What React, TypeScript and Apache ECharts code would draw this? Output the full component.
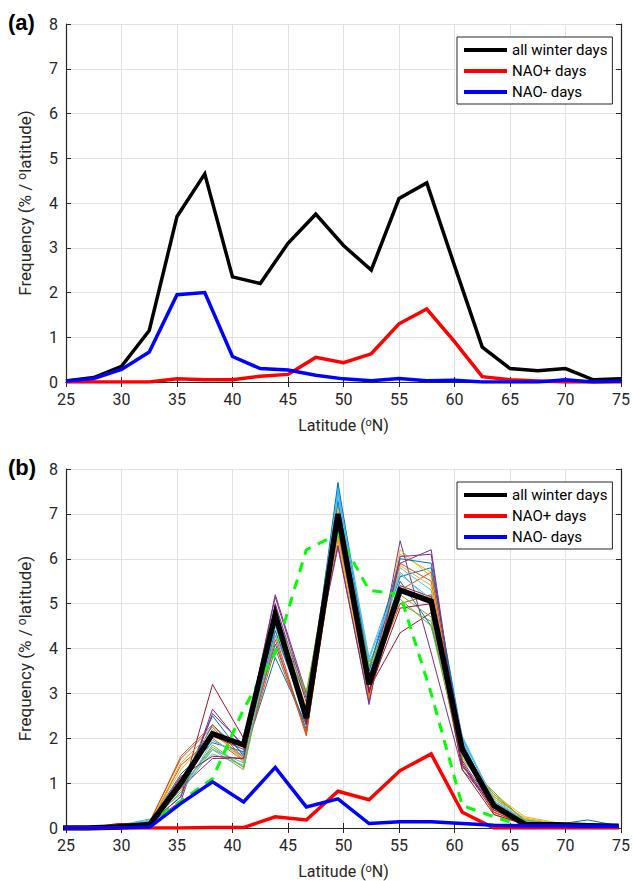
import React, { useEffect, useRef } from "react";
import * as echarts from "echarts";

// ---------- Panel (a) ----------
const latA = [25, 27.5, 30, 32.5, 35, 37.5, 40, 42.5, 45, 47.5, 50, 52.5, 55, 57.5, 60, 62.5, 65, 67.5, 70, 72.5, 75];
const allA = [0.02, 0.1, 0.35, 1.15, 3.7, 4.65, 2.35, 2.2, 3.1, 3.75, 3.05, 2.5, 4.1, 4.45, 2.6, 0.78, 0.3, 0.25, 0.3, 0.05, 0.07];
const posA = [0, 0, 0, 0, 0.07, 0.05, 0.05, 0.13, 0.17, 0.55, 0.43, 0.63, 1.3, 1.63, 0.9, 0.12, 0.05, 0.02, 0, 0, 0];
const negA = [0.02, 0.08, 0.28, 0.67, 1.95, 2.0, 0.57, 0.3, 0.27, 0.15, 0.07, 0.03, 0.08, 0.03, 0.04, 0, 0, 0, 0.05, 0, 0.02];

// ---------- Panel (b) ----------
const latB = [24.1, 26.9, 29.7, 32.55, 35.35, 38.2, 41.0, 43.85, 46.65, 49.5, 52.3, 55.1, 57.9, 60.7, 63.55, 66.35, 69.2, 72.0, 74.8];
const allB = [0, 0, 0.02, 0.08, 1.0, 2.1, 1.85, 4.75, 2.45, 7.0, 3.2, 5.3, 5.05, 1.75, 0.5, 0.08, 0.07, 0.05, 0.04];
const posB = [0, 0, 0, 0, 0, 0.01, 0.01, 0.25, 0.18, 0.82, 0.63, 1.28, 1.65, 0.35, 0, 0, 0, 0, 0];
const negB = [0, 0, 0, 0.02, 0.55, 1.03, 0.58, 1.35, 0.47, 0.65, 0.1, 0.14, 0.14, 0.1, 0.06, 0.05, 0.05, 0.04, 0.04];
const refB = [0, 0, 0.01, 0.12, 0.6, 1.1, 2.65, 3.9, 6.2, 6.55, 5.3, 5.2, 3.0, 0.5, 0.25, 0.03, 0.03, 0.02, 0.02];

const m1 = [0, 0, 0.02, 0.1, 0.9, 2.5, 1.6, 3.8, 2.3, 7.5, 3.6, 5.6, 5.8, 2.0, 0.6, 0.15, 0.1, 0.08, 0.05];
const m2 = [0, 0, 0.03, 0.15, 1.55, 2.25, 1.5, 4.3, 2.1, 6.7, 3.0, 5.9, 5.5, 1.7, 0.4, 0.1, 0.1, 0.08, 0.05];
const m3 = [0, 0, 0.02, 0.12, 1.3, 2.1, 1.6, 4.4, 2.6, 6.4, 2.95, 6.1, 5.7, 1.6, 0.7, 0.2, 0.1, 0.07, 0.05];
const m4 = [0, 0, 0.05, 0.1, 0.6, 2.65, 1.8, 5.2, 3.0, 6.3, 2.75, 6.4, 3.9, 1.3, 0.5, 0.12, 0.08, 0.07, 0.05];
const m5 = [0, 0, 0.03, 0.1, 0.8, 1.75, 1.3, 4.5, 2.9, 7.2, 3.7, 5.0, 4.6, 1.5, 0.8, 0.15, 0.1, 0.06, 0.05];
const m6 = [0, 0, 0.05, 0.18, 1.0, 1.65, 1.4, 4.6, 2.5, 7.6, 3.8, 5.8, 5.3, 2.05, 0.6, 0.15, 0.12, 0.08, 0.05];
const m7 = [0, 0, 0.08, 0.1, 0.7, 3.2, 2.0, 4.9, 2.4, 6.9, 3.1, 4.35, 4.8, 1.4, 0.35, 0.08, 0.07, 0.06, 0.05];
const m8 = [0, 0, 0.03, 0.12, 1.2, 1.9, 1.7, 4.1, 2.2, 7.3, 3.4, 5.5, 4.5, 1.9, 0.55, 0.12, 0.08, 0.18, 0.05];
const m9 = [0, 0, 0.02, 0.1, 1.4, 2.0, 1.5, 4.2, 2.05, 6.8, 3.2, 5.0, 5.2, 1.8, 0.3, 0.08, 0.07, 0.06, 0.04];
const m10 = [0, 0, 0.02, 0.08, 1.1, 2.2, 1.45, 4.7, 2.7, 7.1, 2.9, 6.2, 5.6, 1.7, 0.75, 0.25, 0.12, 0.08, 0.05];
const m11 = [0, 0, 0.03, 0.1, 0.9, 1.55, 1.55, 5.0, 2.8, 6.5, 3.3, 5.9, 6.2, 1.5, 0.45, 0.1, 0.08, 0.06, 0.05];
const m12 = [0, 0, 0.03, 0.12, 0.85, 1.85, 1.35, 4.8, 3.05, 6.6, 3.5, 5.2, 4.7, 1.35, 0.7, 0.18, 0.1, 0.07, 0.05];
const m13 = [0, 0, 0.06, 0.2, 0.75, 1.95, 1.6, 4.3, 2.6, 7.4, 3.6, 5.7, 5.0, 1.95, 0.65, 0.15, 0.12, 0.1, 0.06];
const m14 = [0, 0, 0.1, 0.1, 1.1, 2.05, 1.75, 4.95, 2.35, 6.9, 3.0, 5.4, 5.15, 1.45, 0.4, 0.08, 0.07, 0.06, 0.05];
const m15 = [0, 0, 0.03, 0.12, 1.0, 2.3, 1.65, 4.4, 2.45, 7.7, 3.5, 6.0, 5.9, 1.85, 0.5, 0.12, 0.1, 0.08, 0.05];
const m16 = [0, 0, 0.03, 0.12, 1.6, 2.3, 1.55, 4.0, 2.15, 6.6, 2.9, 5.3, 5.7, 1.75, 0.35, 0.1, 0.08, 0.06, 0.05];
const m17 = [0, 0, 0.02, 0.1, 1.45, 2.15, 1.5, 4.6, 2.55, 6.5, 2.85, 5.85, 5.4, 1.65, 0.65, 0.22, 0.1, 0.07, 0.05];
const m18 = [0, 0, 0.04, 0.1, 0.7, 2.55, 1.85, 5.15, 2.9, 6.25, 2.8, 6.05, 6.1, 1.4, 0.45, 0.1, 0.08, 0.06, 0.05];
const m19 = [0, 0, 0.03, 0.1, 0.9, 1.8, 1.35, 4.65, 2.95, 7.0, 3.6, 5.1, 4.5, 1.55, 0.75, 0.16, 0.1, 0.06, 0.05];
const m20 = [0, 0, 0.05, 0.15, 0.95, 1.75, 1.45, 4.5, 2.55, 7.5, 3.75, 5.65, 5.1, 2.0, 0.6, 0.14, 0.1, 0.08, 0.05];
const m21 = [0, 0, 0.07, 0.1, 1.15, 1.6, 1.55, 4.85, 2.3, 6.8, 3.05, 4.9, 5.0, 1.3, 0.3, 0.08, 0.07, 0.06, 0.05];
const members = [m1, m2, m3, m4, m5, m6, m7, m8, m9, m10, m11, m12, m13, m14, m15, m16, m17, m18, m19, m20, m21];
const memberColors = ["#0072BD", "#D95319", "#EDB120", "#7E2F8E", "#77AC30", "#4DBEEE", "#A2142F"];

const names = ["all winter days", "NAO+ days", "NAO- days"];
const xTicks = { min: 25, max: 75, interval: 5 };
const yTicks = { min: 0, max: 8, interval: 1 };

const FONT = "Roboto";
const AXC = "#262626";

function pairs(xs: number[], ys: number[]) {
  return xs.map((x, i) => [x, ys[i]]);
}

function xAxesFor(gi: number) {
  return [
    {
      type: "value", gridIndex: gi, position: "bottom", ...xTicks,
      name: "Latitude ({s|o}N)", nameLocation: "middle", nameGap: 35,
      nameTextStyle: { fontSize: 16, fontFamily: FONT, color: AXC, rich: { s: { fontSize: 11, fontFamily: FONT, color: AXC, verticalAlign: "top" } } },
      axisLine: { show: true, lineStyle: { color: AXC, width: 1.2 } },
      axisTick: { show: true, inside: true, length: 5, lineStyle: { color: AXC } },
      axisLabel: { fontSize: 16, fontFamily: FONT, color: AXC, margin: 9 },
      splitLine: { show: true, lineStyle: { color: "#e2e2e2", width: 1 } },
    },
    {
      type: "value", gridIndex: gi, position: "top", ...xTicks,
      axisLine: { show: true, lineStyle: { color: AXC, width: 1.2 } },
      axisTick: { show: true, inside: true, length: 5, lineStyle: { color: AXC } },
      axisLabel: { show: false },
      splitLine: { show: false },
    },
  ];
}

function yAxesFor(gi: number) {
  return [
    {
      type: "value", gridIndex: gi, position: "left", ...yTicks,
      name: "Frequency (% / {s|o}latitude)", nameLocation: "middle", nameGap: 33,
      nameTextStyle: { fontSize: 17, fontFamily: FONT, color: AXC, rich: { s: { fontSize: 12, fontFamily: FONT, color: AXC, verticalAlign: "top" } } },
      axisLine: { show: true, lineStyle: { color: AXC, width: 1.2 } },
      axisTick: { show: true, inside: true, length: 5, lineStyle: { color: AXC } },
      axisLabel: { fontSize: 16, fontFamily: FONT, color: AXC, margin: 8 },
      splitLine: { show: true, lineStyle: { color: "#e2e2e2", width: 1 } },
    },
    {
      type: "value", gridIndex: gi, position: "right", ...yTicks,
      axisLine: { show: true, lineStyle: { color: AXC, width: 1.2 } },
      axisTick: { show: true, inside: true, length: 5, lineStyle: { color: AXC } },
      axisLabel: { show: false },
      splitLine: { show: false },
    },
  ];
}

function legendAt(top: number) {
  return {
    data: names.map((n) => ({ name: n, icon: "rect" })),
    left: 457, top, orient: "vertical",
    itemWidth: 43, itemHeight: 4, itemGap: 5,
    padding: [5, 5, 4, 7],
    borderColor: AXC, borderWidth: 1, backgroundColor: "#fff",
    textStyle: { fontSize: 15, fontFamily: FONT, color: "#000", lineHeight: 16 },
    selectedMode: false,
  };
}

function thick(name: string, color: string, data: number[][], xi: number, yi: number, width: number) {
  return {
    type: "line", name, xAxisIndex: xi, yAxisIndex: yi, data,
    symbol: "none", lineStyle: { color, width, join: "miter" }, itemStyle: { color },
    silent: true,
  };
}

export default function App() {
  const ref = useRef<HTMLDivElement>(null);
  useEffect(() => {
    document.body.style.margin = "0";
    const chart = echarts.init(ref.current!, null, { renderer: "svg" });
    const memberSeries = members.map((m, i) => ({
      type: "line", name: "member " + (i + 1), xAxisIndex: 2, yAxisIndex: 2,
      data: pairs(latB, m), symbol: "none", silent: true,
      lineStyle: { color: memberColors[i % memberColors.length], width: 1 },
      itemStyle: { color: memberColors[i % memberColors.length] },
    }));
    const option = {
      animation: false,
      backgroundColor: "#fff",
      grid: [
        { left: 66, top: 24, width: 557, height: 358 },
        { left: 66, top: 469, width: 557, height: 359 },
      ],
      xAxis: [...xAxesFor(0), ...xAxesFor(1)],
      yAxis: [...yAxesFor(0), ...yAxesFor(1)],
      legend: [legendAt(37), legendAt(482)],
      graphic: [
        { type: "text", left: 8, top: 11, style: { text: "(a)", font: 'bold 22px "Liberation Sans"', fill: "#000" } },
        { type: "text", left: 8, top: 456, style: { text: "(b)", font: 'bold 22px "Liberation Sans"', fill: "#000" } },
      ],
      series: [
        thick(names[0], "#000000", pairs(latA, allA), 0, 0, 3.5),
        thick(names[1], "#ff0000", pairs(latA, posA), 0, 0, 3.5),
        thick(names[2], "#0000ff", pairs(latA, negA), 0, 0, 3.5),
        ...memberSeries,
        {
          type: "line", name: "reference", xAxisIndex: 2, yAxisIndex: 2,
          data: pairs(latB, refB), symbol: "none", silent: true,
          lineStyle: { color: "#00ff00", width: 3, type: [10, 8] },
        },
        thick(names[0], "#000000", pairs(latB, allB), 2, 2, 5.5),
        thick(names[1], "#ff0000", pairs(latB, posB), 2, 2, 3.5),
        thick(names[2], "#0000ff", pairs(latB, negB), 2, 2, 3.5),
      ],
    };
    chart.setOption(option as any);
    return () => chart.dispose();
  }, []);
  return <div ref={ref} style={{ width: 633, height: 881 }} />;
}
